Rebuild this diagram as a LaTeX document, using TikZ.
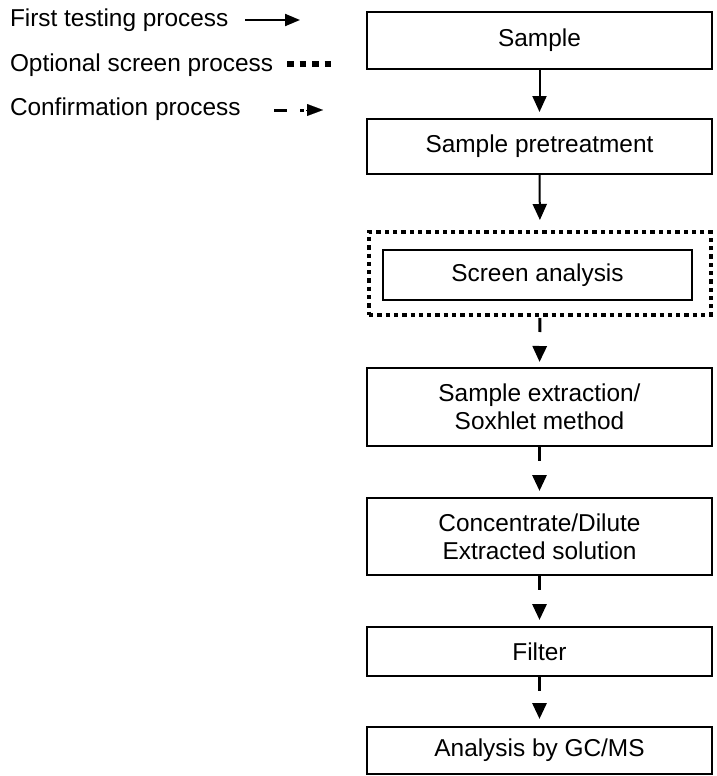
\documentclass[tikz,border=0pt]{standalone}
\usepackage{fontspec}
\setmainfont{Liberation Sans}
\usetikzlibrary{arrows.meta}
\begin{document}
\begin{tikzpicture}[x=1pt,y=-1pt,
  every node/.style={font=\fontsize{24.4}{28}\selectfont, inner sep=0pt, outer sep=0pt},
  procbox/.style={draw, line width=1.5pt, minimum width=345pt, align=center},
  dotbox/.style={draw, line width=4.3pt, dash pattern=on 4.3pt off 4pt},
  legtext/.style={anchor=base west},
  bighead/.style={-{Triangle[length=16pt 0 0,width=14pt 0 0]}},
  firstarrow/.style={line width=2pt, bighead},
  confarrow/.style={line width=3pt, dash pattern=on 14pt off 40pt, bighead},
]
\useasboundingbox (0,0) rectangle (716,776);
% legend
\node[legtext] (l1) at (10,26.7) {First testing process};
\node[legtext] (l2) at (10,71.7) {Optional screen process};
\node[legtext] (l3) at (10,115) {Confirmation process};
\coordinate (a1s) at (245,20); \coordinate (a1e) at (300,20);
\draw[line width=2pt, -{Triangle[length=15pt 0 0,width=12pt 0 0]}] (a1s) -- (a1e);
\coordinate (d1s) at (287,64); \coordinate (d1e) at (332,64);
\draw[line width=5.5pt, dash pattern=on 6.5pt off 6pt] (d1s) -- (d1e);
\coordinate (c1s) at (274,110); \coordinate (c1m) at (287,110);
\coordinate (c2s) at (300,110); \coordinate (c2e) at (304,110);
\coordinate (c3s) at (306,110); \coordinate (c3e) at (323,110);
\draw[line width=3pt] (c1s) -- (c1m);
\draw[line width=3pt] (c2s) -- (c2e);
\draw[line width=0.1pt, -{Triangle[length=16pt 0 0,width=12pt 0 0]}] (c3s) -- (c3e);
% flow
\node[procbox, minimum height=57pt] (sample) at (539.5,40.5) {Sample};
\node[procbox, minimum height=55pt] (pre) at (539.5,146.5) {Sample pretreatment};
\node[dotbox, minimum width=342pt, minimum height=83pt] (screenopt) at (540,273.5) {};
\node[procbox, minimum width=309pt, minimum height=50pt] (screen) at (537.5,275) {Screen analysis};
\node[procbox, minimum height=78pt] (extr) at (539.5,407) {Sample extraction/\\Soxhlet method};
\node[procbox, minimum height=77pt] (conc) at (539.5,536.5) {Concentrate/Dilute\\Extracted solution};
\node[procbox, minimum height=49pt] (filt) at (539.5,651.5) {Filter};
\node[procbox, minimum height=47pt] (gcms) at (539.5,750.5) {Analysis by GC/MS};
\draw[firstarrow, shorten >=7pt] (sample.south) -- (pre.north);
\draw[firstarrow, shorten >=12pt] (pre.south) -- (screenopt.north);
\draw[confarrow, shorten <=3pt, shorten >=6pt] (screenopt.south) -- (extr.north);
\draw[confarrow, shorten <=1pt, shorten >=7pt] (extr.south) -- (conc.north);
\draw[confarrow, shorten <=1pt, shorten >=7pt] (conc.south) -- (filt.north);
\draw[confarrow, shorten <=1pt, shorten >=8pt] (filt.south) -- (gcms.north);
\end{tikzpicture}
\end{document}
